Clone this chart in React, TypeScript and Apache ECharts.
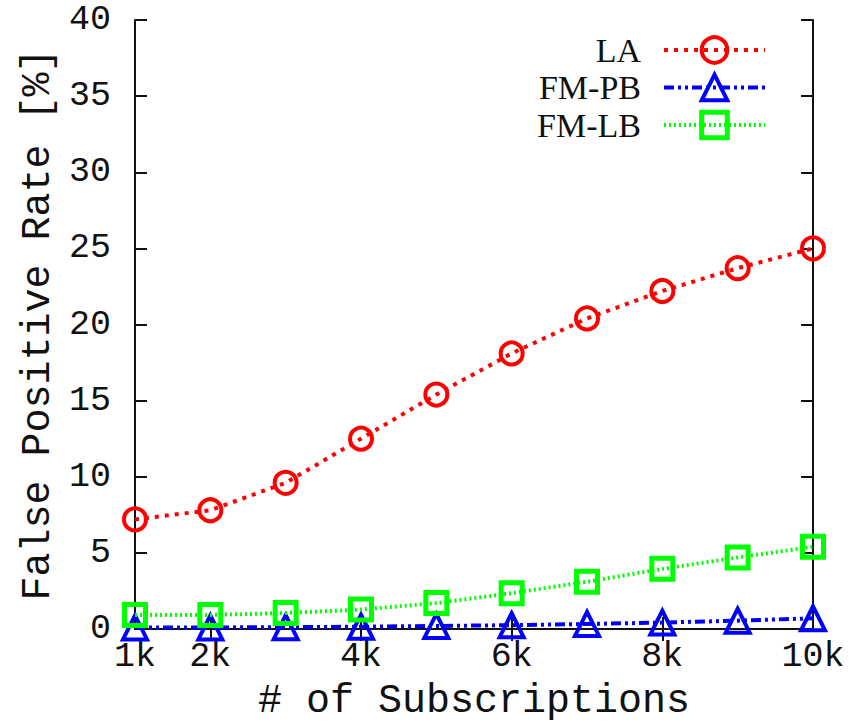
import React, { useEffect, useRef } from "react";
import * as echarts from "echarts";

const subscriptionsK = [1, 2, 3, 4, 5, 6, 7, 8, 9, 10];
const laValues = [7.2, 7.8, 9.6, 12.5, 15.4, 18.1, 20.4, 22.2, 23.7, 25.0];
const fmPbValues = [0.1, 0.1, 0.12, 0.15, 0.2, 0.25, 0.33, 0.42, 0.55, 0.7];
const fmLbValues = [0.92, 0.92, 1.05, 1.28, 1.7, 2.35, 3.1, 3.95, 4.7, 5.4];
const xTickValues = [1, 2, 4, 6, 8, 10];
const xTopTickValues = [2, 4, 6, 8];
const seriesNames = ["LA", "FM-PB", "FM-LB"];
const seriesColors = ["#ff0000", "#0000ff", "#00ff00"];
const borderWidths = [4, 4, 5];

const MONO = "'Liberation Mono', 'Courier New', monospace";
const SERIF = "'Liberation Serif', 'Times New Roman', serif";

const pairs = (ys: number[]) => subscriptionsK.map((x, i) => [x, ys[i]]);

export default function App() {
  const ref = useRef<HTMLDivElement>(null);
  useEffect(() => {
    if (!ref.current) return;
    const chart = echarts.init(ref.current, undefined, { renderer: "svg" });
    const axisLine = { show: true, lineStyle: { color: "#111", width: 2 } };
    const tick = { show: true, inside: true, length: 12, lineStyle: { color: "#111", width: 2 } };
    chart.setOption({
      animation: false,
      backgroundColor: "#fff",
      grid: { left: 135, right: 38, top: 20, bottom: 99, containLabel: false },
      legend: {
        orient: "vertical",
        right: 84,
        top: 33,
        padding: 0,
        align: "right",
        itemWidth: 101,
        itemHeight: 32,
        itemGap: 3.5,
        lineStyle: { width: 4 },
        data: seriesNames.map((name, i) => ({
          name,
          itemStyle: { borderWidth: borderWidths[i], borderColor: seriesColors[i], color: "rgba(255,255,255,0)" },
        })),
        textStyle: {
          fontFamily: SERIF,
          fontSize: 34,
          lineHeight: 26,
          color: "#111",
          padding: [0, 18, 0, 0],
        },
      },
      xAxis: [
        {
          type: "value",
          min: 1,
          max: 10,
          position: "bottom",
          name: "# of Subscriptions",
          nameLocation: "middle",
          nameGap: 52,
          nameTextStyle: { fontFamily: MONO, fontSize: 40, color: "#111" },
          axisLine,
          axisTick: { ...tick, customValues: xTickValues },
          splitLine: { show: false },
          axisLabel: {
            customValues: xTickValues,
            formatter: (v: number) => `${v}k`,
            fontFamily: MONO,
            fontSize: 35,
            color: "#111",
            margin: 10,
          },
        },
        {
          type: "value",
          min: 1,
          max: 10,
          position: "top",
          axisLine,
          axisTick: { ...tick, customValues: xTopTickValues },
          axisLabel: { show: false },
          splitLine: { show: false },
        },
      ],
      yAxis: [
        {
          type: "value",
          min: 0,
          max: 40,
          interval: 5,
          position: "left",
          name: "False Positive Rate [%]",
          nameLocation: "middle",
          nameGap: 70,
          nameTextStyle: { fontFamily: MONO, fontSize: 40, color: "#111" },
          axisLine,
          axisTick: tick,
          splitLine: { show: false },
          axisLabel: { fontFamily: MONO, fontSize: 35, color: "#111", margin: 24 },
        },
        {
          type: "value",
          min: 0,
          max: 40,
          interval: 5,
          position: "right",
          axisLine,
          axisTick: tick,
          axisLabel: { show: false },
          splitLine: { show: false },
        },
      ],
      series: [
        {
          name: seriesNames[0],
          type: "line",
          data: pairs(laValues),
          symbol: "circle",
          symbolSize: 22,
          itemStyle: { color: "rgba(255,255,255,0)", borderColor: seriesColors[0], borderWidth: borderWidths[0] },
          lineStyle: { color: seriesColors[0], width: 4, type: [4, 6] },
          z: 3,
        },
        {
          name: seriesNames[1],
          type: "line",
          data: pairs(fmPbValues),
          symbol: "triangle",
          symbolSize: 24,
          itemStyle: { color: "rgba(255,255,255,0)", borderColor: seriesColors[1], borderWidth: borderWidths[1] },
          lineStyle: { color: seriesColors[1], width: 4, type: [10, 4, 3, 4, 3, 4] },
          z: 4,
        },
        {
          name: seriesNames[2],
          type: "line",
          data: pairs(fmLbValues),
          symbol: "rect",
          symbolSize: 21,
          itemStyle: { color: "rgba(255,255,255,0)", borderColor: seriesColors[2], borderWidth: borderWidths[2] },
          lineStyle: { color: seriesColors[2], width: 4, type: [2, 3] },
          z: 5,
        },
      ],
    });
    return () => chart.dispose();
  }, []);
  return <div ref={ref} style={{ width: 851, height: 728, position: "absolute", left: 0, top: 0 }} />;
}
